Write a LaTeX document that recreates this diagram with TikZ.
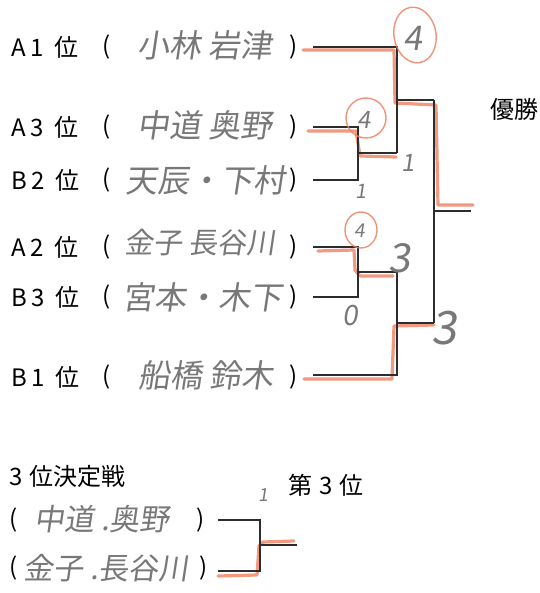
\documentclass[tikz,border=0pt]{standalone}
\usepackage{fontspec}
\setmainfont{Noto Sans CJK JP}
\newfontfamily\jpfont{Noto Sans CJK JP}
\newfontfamily\handfont[FakeSlant=0.15]{Noto Sans CJK JP}
\usetikzlibrary{shapes.geometric}
\definecolor{ink}{RGB}{45,45,45}
\definecolor{pencil}{RGB}{120,120,120}
\definecolor{marker}{RGB}{238,128,98}
\tikzset{
  lab/.style={font=\jpfont\fontsize{24}{24}\selectfont, text=black, inner sep=0pt},
  nm/.style={font=\handfont\fontsize{32}{32}\selectfont, text=pencil, inner sep=0pt},
  nmthree/.style={font=\handfont\fontsize{30}{30}\selectfont, text=pencil, inner sep=0pt},
  br/.style={draw=ink, line width=1.4pt},
  hl/.style={draw=marker, line width=3.2pt, opacity=0.8, line cap=round, line join=round},
  sc/.style={font=\handfont\fontsize{#1}{#1}\selectfont, text=pencil, inner sep=0pt},
  ring/.style={draw=marker, line width=1.4pt, ellipse, inner sep=0pt, opacity=0.85}
}
\begin{document}
\begin{tikzpicture}[x=1pt,y=-1pt]
\useasboundingbox (0,0) rectangle (539,593);
% ---- row labels
\node[lab, anchor=west] (la1) at (11,47)  {A\hspace{5pt}1\hspace{10pt}位};
\node[lab, anchor=west] (la3) at (11,127) {A\hspace{5pt}3\hspace{10pt}位};
\node[lab, anchor=west] (lb2) at (11,180) {B\hspace{5pt}2\hspace{10pt}位};
\node[lab, anchor=west] (la2) at (11,247) {A\hspace{5pt}2\hspace{10pt}位};
\node[lab, anchor=west] (lb3) at (11,297) {B\hspace{5pt}3\hspace{10pt}位};
\node[lab, anchor=west] (lb1) at (11,377) {B\hspace{5pt}1\hspace{10pt}位};
\foreach \n/\y in {a1/47,a3/127,b2/180,a2/247,b3/297,b1/377}{
  \node[lab] (o\n) at (107,\y) {(};
  \node[lab] (c\n) at (294,\y) {)};
}
% ---- names
\node[nm] (na1) at (205,45)  {小林 岩津};
\node[nm] (na3) at (205,125) {中道 奥野};
\node[nm] (nb2) at (205,180) {天辰・下村};
\node[nm, font=\handfont\fontsize{29}{29}\selectfont] (na2) at (200,243) {金子 長谷川};
\node[nm] (nb3) at (202,297) {宮本・木下};
\node[nm] (nb1) at (206,375) {船橋 鈴木};
% ---- titles
\node[lab] (win) at (514,109) {優勝};
\node[lab, anchor=west] (t3) at (9,476) {3\hspace{7pt}位決定戦};
\node[lab, anchor=west] (third) at (288,485) {第\hspace{7pt}3\hspace{7pt}位};
% ---- coordinates of bracket
\coordinate (ea1) at (313,47);  \coordinate (ea3) at (313,127);
\coordinate (eb2) at (313,180); \coordinate (ea2) at (313,247);
\coordinate (eb3) at (313,297); \coordinate (eb1) at (313,375);
\coordinate (m1) at (358,153);  \coordinate (m1r) at (397,153);
\coordinate (m2) at (397,100);  \coordinate (m2r) at (434,100);
\coordinate (m3) at (358,272);  \coordinate (m3r) at (397,272);
\coordinate (m4) at (397,323);  \coordinate (m4r) at (434,323);
\coordinate (fm) at (434,211);  \coordinate (champ) at (471,211);
% ---- highlight marks (winner paths)
\draw[hl] (303,50) -- (394,50) -- (395,103) -- (436,105) -- (438,205) -- (473,205);
\draw[hl] (308,131) -- (356,131) -- (360,156) -- (396,157);
\draw[hl] (318,251) -- (354,250) -- (355,270) -- (360,276) -- (393,276);
\draw[hl] (304,379) -- (392,379) -- (394,326) -- (434,325);
\draw[hl] (218,576) -- (257,575) -- (259,546) -- (263,542) -- (294,541);
% ---- bracket lines
\draw[br] (ea3) -| (m1) (eb2) -| (m1) (m1) -- (m1r);
\draw[br] (ea1) -| (m2) (m1r) -| (m2) (m2) -- (m2r);
\draw[br] (ea2) -| (m3) (eb3) -| (m3) (m3) -- (m3r);
\draw[br] (eb1) -| (m4) (m3r) -| (m4) (m4) -- (m4r);
\draw[br] (m2r) -| (fm) (m4r) -| (fm) (fm) -- (champ);
% ---- scores
\node[sc=34] (s1) at (413,38) {4};
\node[ring, minimum width=42pt, minimum height=56pt, rotate=10] (r1) at (415,35) {};
\node[sc=24] (s2) at (364,120) {4};
\node[ring, minimum width=40pt, minimum height=40pt] (r2) at (366,118) {};
\node[sc=20] (s3) at (361,191) {1};
\node[sc=24] (s4) at (408,163) {1};
\node[sc=19] (s5) at (360,231) {4};
\node[ring, minimum width=32pt, minimum height=36pt] (r5) at (361,230) {};
\node[sc=40] (s6) at (400,258) {3};
\node[sc=28] (s7) at (350,316) {0};
\node[sc=46] (s8) at (444,328) {3};
% ---- third place match
\node[lab] (o31) at (14,520) {(};
\node[nmthree] (n31) at (102,519) {中道 .奥野};
\node[lab] (c31) at (201,520) {)};
\node[lab] (o32) at (14,568) {(};
\node[nmthree] (n32) at (106,568) {金子 .長谷川};
\node[lab] (c32) at (204,568) {)};
\coordinate (e31) at (218,520); \coordinate (e32) at (218,571);
\coordinate (m5) at (260,545);  \coordinate (m5r) at (297,545);
\draw[br] (e31) -| (m5) (e32) -| (m5) (m5) -- (m5r);
\node[sc=18] (s9) at (263,495) {1};
\end{tikzpicture}
\end{document}
